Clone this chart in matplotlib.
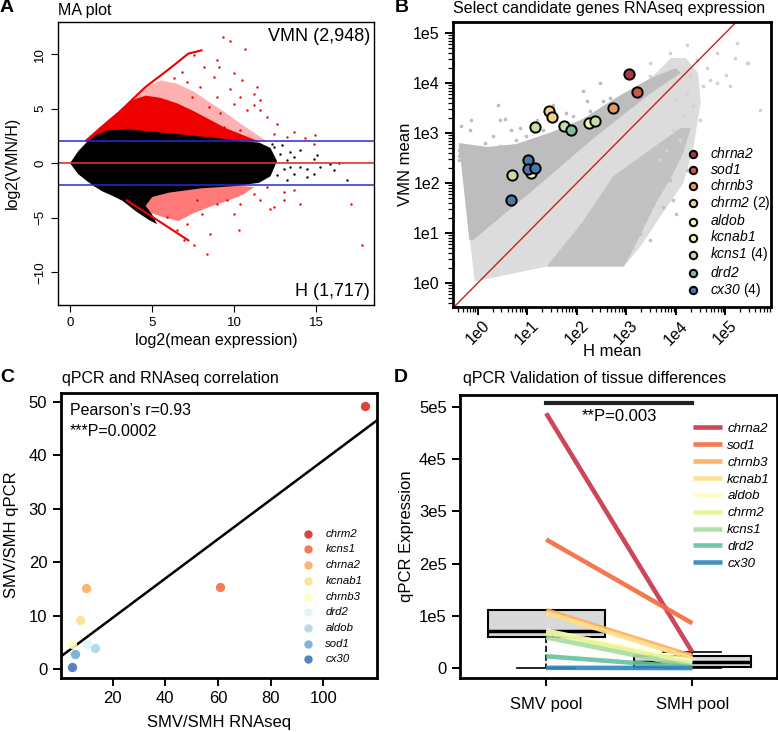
import matplotlib
matplotlib.use("Agg")
import matplotlib.pyplot as plt
import numpy as np
from matplotlib.ticker import FixedLocator, LogLocator, NullFormatter

plt.rcParams['font.family'] = ['Liberation Sans', 'DejaVu Sans']
plt.rcParams['mathtext.fontset'] = 'custom'
plt.rcParams['mathtext.rm'] = 'Liberation Sans:italic'
plt.rcParams['mathtext.it'] = 'Liberation Sans:italic'

# ---------------- A: MA plot (cloud outlines and loose points)
ma_black_x = [0.0, 0.5, 1.0, 1.6, 2.3, 3.5, 5.0, 7.0, 9.0, 10.5, 11.5, 12.2, 12.6, 12.2, 11.5, 10.0,
              8.0, 6.0, 5.0, 4.6, 5.0, 5.3, 4.8, 4.0, 3.2, 2.6, 2.0, 1.5, 1.0, 0.5]
ma_black_y = [0.0, 1.1, 1.9, 2.6, 3.0, 3.1, 2.9, 2.6, 2.3, 2.0, 1.9, 1.4, 0.2, -1.2, -1.8, -2.1,
              -2.3, -2.7, -3.1, -3.9, -4.7, -5.6, -5.2, -4.4, -3.45, -3.0, -2.6, -2.15, -1.6, -1.0]
ma_red_mid_x = [0.9, 1.9, 3.0, 4.6, 5.5, 6.5, 7.5, 8.5, 9.5, 10.5, 11.5, 12.0]
ma_red_mid_y = [2.0, 3.3, 4.7, 7.0, 7.6, 7.3, 6.6, 5.6, 4.6, 3.5, 2.5, 2.0]
ma_red_core_x = [0.9, 1.9, 3.0, 3.8, 4.6, 5.5, 6.5, 7.5, 8.5, 9.5, 10.5, 11.5]
ma_red_core_y = [2.0, 3.3, 4.7, 5.8, 6.2, 6.0, 5.5, 4.8, 4.0, 3.2, 2.6, 2.0]
ma_red_low_x = [3.2, 4.0, 5.0, 6.0, 7.0, 8.5, 10.0, 11.2, 10.5, 9.5, 8.5, 7.5, 6.6, 5.8, 5.0, 4.2]
ma_red_low_y = [-3.3, -2.9, -2.6, -2.4, -2.2, -2.05, -2.0, -2.2, -2.9, -3.5, -4.0, -4.6, -5.3, -5.0, -4.6, -4.0]
ma_up_line_x = [1.0, 1.9, 3.0, 4.6, 6.0, 7.2, 8.0]
ma_up_line_y = [2.1, 3.3, 4.7, 7.0, 8.6, 10.05, 10.35]
ma_low_line_x = [3.45, 5.3, 7.2]
ma_low_line_y = [-3.4, -5.2, -7.07]
ma_red_pts_x = [9.31, 9.76, 7.52, 6.81, 6.3, 7.11, 7.93, 8.74, 9.96, 9.76, 8.94, 10.67, 10.47, 11.18,
                11.59, 9.96, 10.77, 11.99, 12.6, 14.33, 14.84, 8.13, 9.04, 8.43, 10.37, 11.38, 9.15,
                11.59, 12.4, 13.21, 8.94, 7.42, 11.18, 13.62, 14.94, 9.35, 10.37,
                7.72, 8.03, 8.94, 9.55, 9.96, 10.26, 8.54, 6.91, 7.52, 8.34, 10.37, 11.18, 11.99,
                12.2, 12.4, 13.0, 13.62, 14.02, 17.07, 17.79, 7.11, 6.5, 13.0, 11.59, 5.9]
ma_red_pts_y = [11.59, 11.22, 9.91, 8.38, 7.77, 7.46, 7.0, 7.92, 8.23, 6.85, 6.08, 10.43, 7.61, 6.39,
                5.78, 5.47, 4.86, 4.25, 3.64, 2.35, 1.8, 8.84, 8.84, 5.17, 6.08, 7.0, 4.56,
                4.86, 2.72, 2.41, 9.45, 6.08, 5.32, 2.87, 2.63, 3.33, 3.03,
                -3.39, -4.62, -3.7, -3.39, -4.62, -6.15, -6.45, -7.06, -7.52, -8.28, -3.7, -2.78, -2.17,
                -4.16, -4.01, -2.63, -2.48, -3.7, -3.7, -7.52, -5.53, -6.15, -3.39, -3.39, -4.93]
ma_black_pts_x = [12.4, 12.8, 13.21, 13.62, 14.02, 14.43, 14.84, 15.04, 15.24, 15.85, 16.05, 16.36,
                  16.87, 14.43, 13.62, 13.21, 13.0, 12.6, 12.2, 14.02, 13.41, 14.84, 13.41, 12.9, 12.3]
ma_black_pts_y = [1.5, 0.89, 0.28, 0.58, -0.34, -0.49, 0.43, 0.73, -0.34, -0.03, -0.64, 0.03,
                  -1.56, -1.26, -0.95, -1.56, -0.49, -1.1, -0.8, 1.19, 1.04, -0.95, -0.34, 1.7, 1.8]

# ---------------- B: candidate genes (log10 outlines of the grey cloud, then the genes)
b_light_lx = [-0.06, 1.39, 2.95, 3.3, 3.7, 4.15, 4.35, 4.5, 4.45, 4.2, 3.9, 3.5, 2.87, 2.12, 1.5,
              0.78, 0.2, -0.37, -0.16]
b_light_ly = [0.03, 0.33, 0.33, 0.75, 1.35, 2.0, 2.7, 3.6, 4.2, 4.5, 4.5, 4.1, 3.75, 3.26, 3.0,
              2.75, 2.7, 2.75, 0.86]
b_dark_up_lx = [-0.38, 0.2, 0.78, 1.5, 2.12, 2.87, 3.5, 4.0, 4.1, 3.47, 2.46, 2.06, 1.11, 0.44, -0.09, -0.17]
b_dark_up_ly = [2.8, 2.72, 2.78, 3.02, 3.28, 3.75, 4.1, 4.3, 4.2, 3.78, 2.99, 2.66, 1.85, 1.3, 0.86, 0.86]
b_dark_low_lx = [1.39, 2.95, 3.1, 3.35, 3.6, 3.9, 4.15, 4.3, 4.1, 3.47, 2.73, 2.1]
b_dark_low_ly = [0.33, 0.33, 0.6, 1.1, 1.6, 2.1, 2.6, 3.1, 3.1, 2.66, 2.13, 1.2]
b_up_pts_lx = [2.46, 2.13, 0.41, -0.13, -0.33, -0.16, 0.55, 0.68, 0.85, 0.31, 0.14, 0.44, 0.78, 0.98,
               1.19, 1.52, 1.32, 1.79, 2.2, 2.26, 2.53, 2.4, -0.36, -0.36, 0.04, 0.58, 1.39, 1.66,
               1.93, 2.67, 1.72, 0.44, -0.38, -0.38, -0.37]
b_up_pts_ly = [3.99, 3.83, 3.56, 3.26, 3.13, 3.06, 3.28, 3.06, 3.09, 2.93, 2.79, 2.73, 2.86, 2.93,
               3.26, 3.56, 3.06, 3.39, 3.63, 3.43, 3.63, 3.26, 2.73, 2.6, 2.39, 2.53, 2.93, 3.13,
               3.33, 3.69, 3.19, 3.26, 2.45, 2.55, 2.65]
b_tr_pts_lx = [4.22, 3.88, 3.47, 4.42, 4.62, 4.82, 5.02, 5.19, 5.43, 5.7, 4.69, 4.55, 4.22, 4.01,
               4.35, 4.48, 4.15, 3.95, 4.08, 3.81, 3.68, 4.82, 5.09, 4.28, 3.47, 5.46, 5.23]
b_tr_pts_ly = [4.76, 4.59, 4.39, 4.46, 4.29, 3.99, 4.16, 4.49, 4.39, 3.46, 4.06, 3.93, 3.79, 3.66,
               3.53, 3.26, 3.33, 3.06, 2.86, 2.66, 2.46, 4.59, 3.93, 4.13, 4.13, 4.39, 4.79]
b_lr_pts_lx = [3.81, 3.61, 3.88, 3.41, 3.54, 3.74, 3.95, 3.14, 3.27, 2.87, 2.73, 3.0, 3.47, 4.01, 4.22, 4.35]
b_lr_pts_ly = [2.39, 2.26, 2.06, 1.79, 1.59, 1.53, 1.66, 1.33, 0.99, 0.66, 0.39, 0.53, 0.86, 1.39, 2.26, 2.59]

b_pt_gene = ['chrna2', 'sod1', 'chrnb3', 'chrm2', 'chrm2', 'kcns1', 'kcns1', 'drd2', 'aldob',
             'kcns1', 'cx30', 'cx30', 'cx30', 'kcnab1', 'kcns1', 'cx30']
b_pt_h = [1150, 1650, 540, 28, 31, 14.5, 55, 78, 180, 230, 10.5, 10.5, 14.5, 11.7, 4.9, 4.7]
b_pt_vmn = [15000, 6500, 3200, 2750, 2050, 1300, 1400, 1150, 1550, 1700, 290, 190, 204, 155, 145, 45]
b_genes = ['chrna2', 'sod1', 'chrnb3', 'chrm2', 'aldob', 'kcnab1', 'kcns1', 'drd2', 'cx30']
b_colors = ['#a23b45', '#c65a45', '#e09a62', '#eed28a', '#f5f3b5', '#eef2b0', '#c4dfa6', '#80b8a2', '#4a78a8']

# ---------------- C: qPCR vs RNAseq
c_genes = ['chrm2', 'kcns1', 'chrna2', 'kcnab1', 'chrnb3', 'drd2', 'aldob', 'sod1', 'cx30']
c_rnaseq = [115.8, 60.7, 9.7, 7.6, 4.7, 10.4, 13.2, 5.6, 4.7]
c_qpcr = [49.3, 15.4, 15.1, 9.2, 4.7, 4.6, 4.0, 2.75, 0.45]
c_colors = ['#d73027', '#f46d43', '#fdae61', '#fee090', '#ffffbf', '#e0f3f8', '#abd9e9', '#74add1', '#4575b4']

# ---------------- D: qPCR pools
d_genes = ['chrna2', 'sod1', 'chrnb3', 'kcnab1', 'aldob', 'chrm2', 'kcns1', 'drd2', 'cx30']
d_smv = [4.87e5, 2.46e5, 1.11e5, 1.06e5, 0.72e5, 0.68e5, 0.59e5, 0.23e5, 0.01e5]
d_smh = [0.31e5, 0.86e5, 0.235e5, 0.19e5, 0.13e5, 0.09e5, 0.03e5, 0.02e5, 0.005e5]
d_colors = ['#c9374a', '#f46d43', '#fdae61', '#fee08b', '#ffffbf', '#e6f598', '#abdda4', '#66c2a5', '#3288bd']

W, H = 778, 732
fig = plt.figure(figsize=(W / 100, H / 100), dpi=100)


def px_axes(l, t, r, b):
    return fig.add_axes([l / W, 1 - b / H, (r - l) / W, (b - t) / H])


def ftext(x, y, s, **kw):
    fig.text(x / W, 1 - y / H, s, **kw)


# ===== A =====
axA = px_axes(58, 22, 374, 305)
axA.fill(ma_red_mid_x, ma_red_mid_y, color='#ff2020', alpha=0.35, lw=0)
axA.fill(ma_red_core_x, ma_red_core_y, color='#ee0000', lw=0)
axA.fill(ma_red_low_x, ma_red_low_y, color='#ff2020', alpha=0.6, lw=0)
axA.fill(ma_black_x, ma_black_y, color='black', lw=0)
axA.plot(ma_up_line_x, ma_up_line_y, color='#ee0000', lw=1.5)
axA.plot(ma_low_line_x, ma_low_line_y, color='#ee0000', lw=1.5)
axA.scatter(ma_red_pts_x, ma_red_pts_y, s=3, color='#ee0000', lw=0)
axA.scatter(ma_black_pts_x, ma_black_pts_y, s=3, color='black', lw=0)
axA.axhline(2, color='#2828d8', lw=1.1)
axA.axhline(-2, color='#2828d8', lw=1.1)
axA.axhline(0, color='#e03030', lw=1.2)
axA.set_xlim(-0.73, 18.5)
axA.set_ylim(-13.0, 12.95)
axA.set_xticks([0, 5, 10, 15])
axA.set_yticks([-10, -5, 0, 5, 10])
axA.tick_params(direction='out', length=5, width=0.8, labelsize=9.5)
plt.setp(axA.get_yticklabels(), rotation=90, va='center')
for sp in axA.spines.values():
    sp.set_linewidth(1.0)
axA.text(0.987, 0.95, 'VMN (2,948)', transform=axA.transAxes, ha='right', va='center', fontsize=13)
axA.text(0.987, 0.049, 'H (1,717)', transform=axA.transAxes, ha='right', va='center', fontsize=13)

# ===== B =====
axB = px_axes(453, 22, 771, 307)
axB.set_xscale('log')
axB.set_yscale('log')
axB.fill(10 ** np.array(b_light_lx), 10 ** np.array(b_light_ly), color='#dcdcdc', lw=0)
axB.fill(10 ** np.array(b_dark_up_lx), 10 ** np.array(b_dark_up_ly), color='#bdbdbd', lw=0)
axB.fill(10 ** np.array(b_dark_low_lx), 10 ** np.array(b_dark_low_ly), color='#c2c2c2', lw=0)
axB.scatter(10 ** np.array(b_up_pts_lx), 10 ** np.array(b_up_pts_ly), s=7, color='#bdbdbd', lw=0)
axB.scatter(10 ** np.array(b_tr_pts_lx), 10 ** np.array(b_tr_pts_ly), s=7, color='#d2d2d2', lw=0)
axB.scatter(10 ** np.array(b_lr_pts_lx), 10 ** np.array(b_lr_pts_ly), s=7, color='#c2c2c2', lw=0)
axB.plot([0.1, 1e6], [0.1, 1e6], color='#cc2020', lw=1.0)
for g, col in zip(b_genes, b_colors):
    hx = [h for h, gg in zip(b_pt_h, b_pt_gene) if gg == g]
    vy = [v for v, gg in zip(b_pt_vmn, b_pt_gene) if gg == g]
    n = len(hx)
    lab = r'$%s$' % g + (' (%d)' % n if n > 1 else '')
    axB.scatter(hx, vy, s=55, color=col, edgecolor='black', lw=1.4, zorder=5, label=lab)
axB.set_xlim(10 ** -0.5, 10 ** 5.92)
axB.set_ylim(10 ** -0.48, 10 ** 5.22)
decades = [1e0, 1e1, 1e2, 1e3, 1e4, 1e5]
dec_labels = ['1e0', '1e1', '1e2', '1e3', '1e4', '1e5']
for axis in (axB.xaxis, axB.yaxis):
    axis.set_major_locator(FixedLocator(decades))
    axis.set_minor_locator(LogLocator(base=10, subs=np.arange(2, 10), numticks=20))
    axis.set_minor_formatter(NullFormatter())
axB.set_xticklabels(dec_labels, rotation=45, ha='center')
axB.set_yticklabels(dec_labels)
axB.tick_params(which='major', direction='out', length=6, width=1.4, labelsize=11.5)
axB.tick_params(which='minor', direction='out', length=3.5, width=0.9)
axB.tick_params(axis='x', which='major', pad=2)
for sp in axB.spines.values():
    sp.set_linewidth(2.0)
axB.legend(loc='lower right', bbox_to_anchor=(1.026, 0.0), frameon=False, fontsize=10,
           handletextpad=0.25, labelspacing=0.08, markerscale=0.72, borderaxespad=0.2)

# ===== C =====
axC = px_axes(60.5, 393, 377, 678)
for xv, yv, col, g in zip(c_rnaseq, c_qpcr, c_colors, c_genes):
    axC.scatter(xv, yv, s=45, color=col, alpha=0.9, lw=0, label=g, zorder=3)
slope, icpt = np.polyfit(c_rnaseq, c_qpcr, 1)
xs = np.array([0, 125])
axC.plot(xs, slope * xs + icpt, color='black', lw=1.8, zorder=2)
axC.set_xlim(0.2, 120.4)
axC.set_ylim(-1.7, 51.7)
axC.set_xticks([20, 40, 60, 80, 100])
axC.set_yticks([0, 10, 20, 30, 40, 50])
axC.tick_params(direction='out', length=6, width=1.4, labelsize=12)
for sp in axC.spines.values():
    sp.set_linewidth(2.0)
axC.text(0.03, 0.94, 'Pearson\u2019s r=0.93', transform=axC.transAxes, ha='left', va='center', fontsize=11.5)
axC.text(0.03, 0.865, '***P=0.0002', transform=axC.transAxes, ha='left', va='center', fontsize=11.5)
axC.legend(loc='lower right', bbox_to_anchor=(0.986, 0.012), frameon=False,
           prop={'style': 'italic', 'size': 8.2}, handletextpad=0.5, labelspacing=0.5, markerscale=0.9)

# ===== D =====
axD = px_axes(460, 395, 777, 678)
axD.boxplot([d_smv, d_smh], positions=[1, 2], widths=0.8, patch_artist=True, showfliers=False,
            capwidths=0.4, manage_ticks=False,
            boxprops=dict(facecolor='#d9d9d9', edgecolor='black', linewidth=1.5),
            medianprops=dict(color='black', linewidth=2.5),
            whiskerprops=dict(color='black', linestyle='--', linewidth=1.2),
            capprops=dict(color='black', linewidth=1.2))
for g, col, a, b in zip(d_genes, d_colors, d_smv, d_smh):
    axD.plot([1, 2], [a, b], color=col, lw=3.3, alpha=0.92, label=g, solid_capstyle='butt', zorder=4)
axD.plot([1, 2], [5.07e5, 5.07e5], color='#222222', lw=3, zorder=5)
axD.text(1.5, 4.8e5, '**P=0.003', ha='center', va='center', fontsize=12)
axD.set_xlim(0.41, 2.58)
axD.set_ylim(-0.185e5, 5.22e5)
axD.set_xticks([1, 2])
axD.set_xticklabels(['SMV pool', 'SMH pool'])
axD.set_yticks([0, 1e5, 2e5, 3e5, 4e5, 5e5])
axD.set_yticklabels(['0', '1e5', '2e5', '3e5', '4e5', '5e5'])
axD.tick_params(direction='out', length=6, width=1.4, labelsize=12)
axD.tick_params(axis='x', pad=8)
for sp in axD.spines.values():
    sp.set_linewidth(2.0)
axD.legend(loc='upper left', bbox_to_anchor=(0.714, 0.925), frameon=False, borderaxespad=0.1,
           prop={'style': 'italic', 'size': 9.5}, handlelength=2.2, handletextpad=0.4, labelspacing=0.35)

# ===== titles, panel letters, axis labels =====
ftext(7, 8, 'A', fontsize=14, fontweight='bold', ha='center', va='center')
ftext(402, 8, 'B', fontsize=14, fontweight='bold', ha='center', va='center')
ftext(7, 377, 'C', fontsize=14, fontweight='bold', ha='center', va='center')
ftext(401, 378, 'D', fontsize=14, fontweight='bold', ha='center', va='center')
ftext(58, 10, 'MA plot', fontsize=11.5, ha='left', va='center')
ftext(453, 9, 'Select candidate genes RNAseq expression', fontsize=11.5, ha='left', va='center')
ftext(62, 378, 'qPCR and RNAseq correlation', fontsize=11.5, ha='left', va='center')
ftext(463, 379, 'qPCR Validation of tissue differences', fontsize=11.5, ha='left', va='center')
ftext(216, 340, 'log2(mean expression)', fontsize=11.5, ha='center', va='center')
ftext(12, 163, 'log2(VMN/H)', fontsize=11.5, ha='center', va='center', rotation=90)
ftext(612, 352, 'H mean', fontsize=12, ha='center', va='center')
ftext(405, 164, 'VMN mean', fontsize=12, ha='center', va='center', rotation=90)
ftext(219, 722, 'SMV/SMH RNAseq', fontsize=12, ha='center', va='center')
ftext(12, 535, 'SMV/SMH qPCR', fontsize=12, ha='center', va='center', rotation=90)
ftext(407, 536, 'qPCR Expression', fontsize=12, ha='center', va='center', rotation=90)

fig.savefig('out.png', dpi=100)
